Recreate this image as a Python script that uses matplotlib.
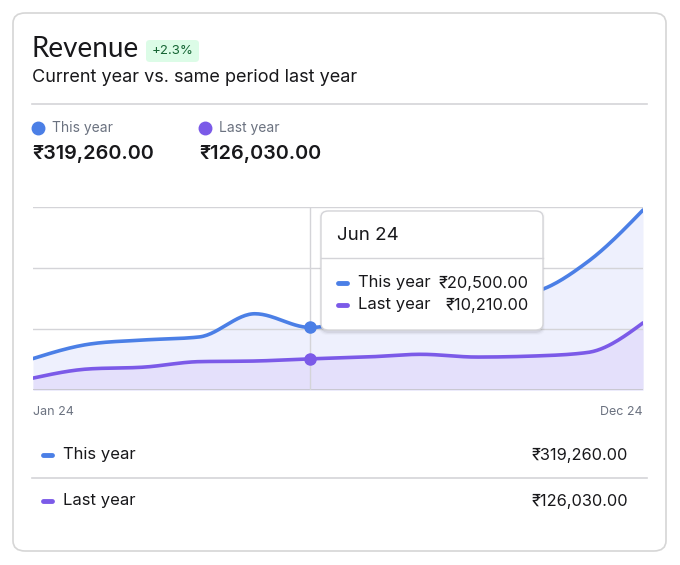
import matplotlib.pyplot as plt
import numpy as np
from matplotlib.patches import FancyBboxPatch
from matplotlib.lines import Line2D

# data
months = ["Jan 24", "Feb 24", "Mar 24", "Apr 24", "May 24", "Jun 24",
          "Jul 24", "Aug 24", "Sep 24", "Oct 24", "Nov 24", "Dec 24"]
this_year = [10300, 15000, 16400, 17400, 25000, 20500,
             24000, 27000, 30060, 32000, 42000, 59000]
last_year = [3900, 6900, 7500, 9300, 9500, 10210,
             10800, 11700, 10800, 11120, 12300, 22000]
series_names = ["This year", "Last year"]
totals = ["₹319,260.00", "₹126,030.00"]
badge_text = "+2.3%"
hover_idx = 5

BLUE = "#4b7fe6"
PURPLE = "#7b5ae8"
W, H = 680, 565

plt.rcParams['font.family'] = ['Inter', 'DejaVu Sans']


def fx(x):
    return x / W


def fy(y):
    return 1 - y / H


def monotone(xs, ys, n=30):
    # d3 style monotoneX curve
    xs = np.asarray(xs, float)
    ys = np.asarray(ys, float)
    h = np.diff(xs)
    s = np.diff(ys) / h
    t = np.zeros(len(xs))
    for i in range(1, len(xs) - 1):
        p = (s[i - 1] * h[i] + s[i] * h[i - 1]) / (h[i - 1] + h[i])
        t[i] = (np.sign(s[i - 1]) + np.sign(s[i])) * min(abs(s[i - 1]), abs(s[i]), 0.5 * abs(p))
    t[0] = (3 * s[0] - t[1]) / 2
    t[-1] = (3 * s[-1] - t[-2]) / 2
    out_x, out_y = [], []
    for i in range(len(xs) - 1):
        u = np.linspace(0, 1, n)
        h00 = 2 * u**3 - 3 * u**2 + 1
        h10 = u**3 - 2 * u**2 + u
        h01 = -2 * u**3 + 3 * u**2
        h11 = u**3 - u**2
        yy = h00 * ys[i] + h10 * h[i] * t[i] + h01 * ys[i + 1] + h11 * h[i] * t[i + 1]
        out_x.extend(xs[i] + u * h[i])
        out_y.extend(yy)
    return np.array(out_x), np.array(out_y)


fig = plt.figure(figsize=(6.8, 5.65), dpi=100)

# card
card = FancyBboxPatch((fx(13), fy(551)), fx(653), 538 / H,
                      boxstyle="round,pad=0,rounding_size=0.018",
                      transform=fig.transFigure, facecolor="white",
                      edgecolor="#d6d6d6", linewidth=1.2, zorder=0)
fig.patches.append(card)

# header
fig.text(fx(31), fy(49), "Revenue", fontsize=20, color="#18181b",
         va="center", ha="left", family=['Lato', 'DejaVu Sans'])
badge = FancyBboxPatch((fx(146), fy(62)), fx(53), 22 / H,
                       boxstyle="round,pad=0,rounding_size=0.006",
                       transform=fig.transFigure, facecolor="#dcfce7",
                       edgecolor="none", zorder=1)
fig.patches.append(badge)
fig.text(fx(172.5), fy(51), badge_text, fontsize=9.5, color="#166534",
         ha="center", va="center")
fig.text(fx(32), fy(78), "Current year vs. same period last year",
         fontsize=13, color="#18181b", va="center", ha="left")
fig.add_artist(Line2D([fx(32), fx(647)], [fy(104), fy(104)],
                      color="#d4d4d8", lw=1.2))

# top legend with totals
for i, (name, col, tot) in enumerate(zip(series_names, [BLUE, PURPLE], totals)):
    x0 = 32 + i * 167
    fig.add_artist(Line2D([fx(x0 + 6)], [fy(128)], marker="o", markersize=9,
                          color=col, linestyle="none"))
    fig.text(fx(x0 + 20), fy(128), name, fontsize=10, color="#6b7280",
             va="center", ha="left")
    fig.text(fx(x0), fy(154), tot, fontsize=14.3, fontweight="semibold",
             color="#18181b", va="center", ha="left")

# chart
ax = fig.add_axes([fx(33), fy(390), 610 / W, 183 / H])
ax.set_zorder(2)
ax.patch.set_alpha(0)
x = np.arange(len(months))
cx, cy1 = monotone(x, this_year)
_, cy2 = monotone(x, last_year)
ax.fill_between(cx, cy1, 0, color="#eef0fd", lw=0, zorder=1)
ax.fill_between(cx, cy2, 0, color="#e4e0fb", lw=0, zorder=2)
for gv in [20000, 40000, 60000]:
    ax.axhline(gv, color="#d4d4d8", lw=1, zorder=3)
ax.axhline(0, color="#c4c4ca", lw=1.2, zorder=3)
ax.axvline(hover_idx, color="#d4d4d8", lw=1, zorder=3)
ax.plot(cx, cy1, color=BLUE, lw=2.6, zorder=4, solid_capstyle="round")
ax.plot(cx, cy2, color=PURPLE, lw=2.6, zorder=4, solid_capstyle="round")
ax.plot([hover_idx], [this_year[hover_idx]], "o", color=BLUE, ms=8, zorder=5)
ax.plot([hover_idx], [last_year[hover_idx]], "o", color=PURPLE, ms=8, zorder=5)
ax.set_xlim(0, len(months) - 1)
ax.set_ylim(0, 60000)
ax.set_xticks([])
ax.set_yticks([])
for sp in ax.spines.values():
    sp.set_visible(False)
ax.text(0.003, -0.12, months[0], transform=ax.get_xaxis_transform(),
        fontsize=9, color="#6b7280", ha="left", va="center")
ax.text(len(months) - 1, -0.12, months[-1], transform=ax.get_xaxis_transform(),
        fontsize=9, color="#6b7280", ha="right", va="center")

# tooltip
for k, a in enumerate([0.05, 0.035, 0.02]):
    sh = FancyBboxPatch((fx(321 - k), fy(332 + k + 1)), fx(222 + 2 * k), (121 + 2 * k) / H,
                        boxstyle="round,pad=0,rounding_size=0.012",
                        transform=fig.transFigure, facecolor="black",
                        edgecolor="none", alpha=a, zorder=9)
    fig.patches.append(sh)
tip = FancyBboxPatch((fx(321), fy(330)), fx(222), 119 / H,
                     boxstyle="round,pad=0,rounding_size=0.011",
                     transform=fig.transFigure, facecolor="white",
                     edgecolor="#d4d4d8", linewidth=1, zorder=10)
fig.patches.append(tip)
fig.text(fx(337), fy(235), months[hover_idx], fontsize=13.5, color="#18181b",
         va="center", ha="left", zorder=11)
fig.add_artist(Line2D([fx(321), fx(543)], [fy(258), fy(258)],
                      color="#d4d4d8", lw=1, zorder=11))
vals = [this_year[hover_idx], last_year[hover_idx]]
for i, (name, col, v) in enumerate(zip(series_names, [BLUE, PURPLE], vals)):
    yy = 283 + i * 22
    fig.add_artist(Line2D([fx(338), fx(347)], [fy(yy), fy(yy)], color=col,
                          lw=3.5, solid_capstyle="round", zorder=11))
    fig.text(fx(358), fy(yy), name, fontsize=12, color="#18181b",
             va="center", ha="left", zorder=11)
    fig.text(fx(529), fy(yy), f"₹{v:,.2f}", fontsize=11.8, color="#18181b",
             va="center", ha="right", zorder=11)

# bottom table
for i, (name, col, tot) in enumerate(zip(series_names, [BLUE, PURPLE], totals)):
    yy = 455 + i * 46
    fig.add_artist(Line2D([fx(43), fx(52)], [fy(yy), fy(yy)], color=col,
                          lw=3.5, solid_capstyle="round"))
    fig.text(fx(63), fy(yy), name, fontsize=12, color="#18181b",
             va="center", ha="left")
    fig.text(fx(628), fy(yy), tot, fontsize=11.8, color="#18181b",
             va="center", ha="right")
fig.add_artist(Line2D([fx(32), fx(647)], [fy(478), fy(478)],
                      color="#d4d4d8", lw=1.2))

fig.savefig("out.png", dpi=100, facecolor="white")
